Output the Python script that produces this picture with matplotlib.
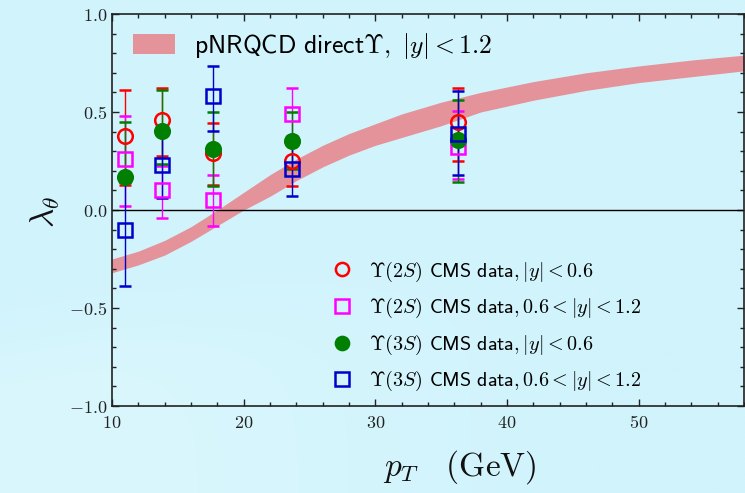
import numpy as np
import matplotlib
matplotlib.use("Agg")
import matplotlib.pyplot as plt
from matplotlib.lines import Line2D
from matplotlib.patches import Patch
from matplotlib.ticker import FuncFormatter, MultipleLocator

plt.rcParams['mathtext.fontset'] = 'cm'

# pNRQCD band
band_pt = [10, 12, 14, 16, 18, 20, 22, 24, 26, 28, 30, 32, 35, 38, 42, 46, 50, 54, 58]
band_hi = [-0.25, -0.21, -0.155, -0.085, 0.0, 0.09, 0.18, 0.26, 0.33, 0.39, 0.44, 0.49,
           0.55, 0.60, 0.655, 0.70, 0.735, 0.765, 0.79]
band_lo = [-0.32, -0.28, -0.23, -0.16, -0.08, 0.0, 0.07, 0.15, 0.22, 0.28, 0.33, 0.37,
           0.43, 0.50, 0.56, 0.61, 0.65, 0.68, 0.71]

pt = [11.0, 13.8, 17.7, 23.7, 36.3]

# Upsilon(2S), |y|<0.6
y2s_c = [0.38, 0.46, 0.29, 0.25, 0.45]
y2s_c_hi = [0.61, 0.62, 0.445, 0.38, 0.62]
y2s_c_lo = [0.13, 0.275, 0.13, 0.12, 0.25]
# Upsilon(2S), 0.6<|y|<1.2
y2s_f = [0.26, 0.10, 0.05, 0.49, 0.32]
y2s_f_hi = [0.48, 0.225, 0.18, 0.62, 0.505]
y2s_f_lo = [0.02, -0.04, -0.08, 0.36, 0.16]
# Upsilon(3S), |y|<0.6
y3s_c = [0.17, 0.405, 0.31, 0.35, 0.355]
y3s_c_hi = [0.45, 0.61, 0.50, 0.50, 0.56]
y3s_c_lo = [0.145, 0.235, 0.12, 0.21, 0.145]
# Upsilon(3S), 0.6<|y|<1.2
y3s_f = [-0.10, 0.23, 0.58, 0.21, 0.39]
y3s_f_hi = [0.145, 0.385, 0.735, 0.35, 0.605]
y3s_f_lo = [-0.39, 0.06, 0.405, 0.07, 0.18]

series = [
    (y2s_c, y2s_c_lo, y2s_c_hi, '#ff0000', 'o', 'none', r'$\Upsilon(2S)$ $\mathsf{CMS\ data},|y|<0.6$'),
    (y2s_f, y2s_f_lo, y2s_f_hi, '#ff00ff', 's', 'none', r'$\Upsilon(2S)$ $\mathsf{CMS\ data},0.6<|y|<1.2$'),
    (y3s_c, y3s_c_lo, y3s_c_hi, '#007f00', 'o', '#007f00', r'$\Upsilon(3S)$ $\mathsf{CMS\ data},|y|<0.6$'),
    (y3s_f, y3s_f_lo, y3s_f_hi, '#0000cc', 's', 'none', r'$\Upsilon(3S)$ $\mathsf{CMS\ data},0.6<|y|<1.2$'),
]

fig = plt.figure(figsize=(7.45, 4.93), dpi=100)
fig.patch.set_facecolor('#d0f3fc')

# soft background, slightly lighter towards the lower left
bg = fig.add_axes([0, 0, 1, 1], zorder=-10)
gx, gy = np.meshgrid(np.linspace(0, 1, 300), np.linspace(0, 1, 200))
curve = 0.30 + 0.25 * gx
w = 1 / (1 + np.exp((gy - curve) / 0.06)) * np.clip(1.2 - gx * 1.5, 0, 1)
base = np.array([208, 243, 252]) / 255
light = np.array([218, 247, 253]) / 255
img = base[None, None, :] * (1 - w[..., None]) + light[None, None, :] * w[..., None]
bg.imshow(img, extent=[0, 1, 0, 1], origin='lower', aspect='auto')
bg.axis('off')

ax = fig.add_axes([112/745, 1 - 406/493, (744 - 112)/745, (406 - 14)/493])
ax.patch.set_alpha(0)

band_col = '#e4939a'
ax.fill_between(band_pt, band_lo, band_hi, color=band_col, lw=0, zorder=1)
ax.axhline(0, color='black', lw=1.0, zorder=2)

handles = []
for yv, lo, hi, col, mk, fc, lab in series:
    yv = np.array(yv)
    err = [yv - np.array(lo), np.array(hi) - yv]
    ax.errorbar(pt, yv, yerr=err, fmt=mk, color=col, mfc=fc, mec=col, ms=10.5,
                mew=1.8, elinewidth=1.0, capsize=4.2, capthick=1.0, zorder=3)
    handles.append(Line2D([], [], ls='none', marker=mk, color=col, mfc=fc, mec=col,
                          ms=9.5, mew=1.8, label=lab))

ax.set_xlim(10, 58)
ax.set_ylim(-1, 1)
ax.xaxis.set_major_locator(MultipleLocator(10))
ax.xaxis.set_minor_locator(MultipleLocator(2))
ax.yaxis.set_major_locator(MultipleLocator(0.5))
ax.yaxis.set_minor_locator(MultipleLocator(0.1))
ax.xaxis.set_major_formatter(FuncFormatter(lambda v, p: f"${v:.0f}$"))
ax.yaxis.set_major_formatter(FuncFormatter(lambda v, p: f"${v:.1f}$"))
ax.tick_params(which='both', direction='in', top=True, right=True, colors='#222222',
               labelsize=13, width=1.0)
ax.tick_params(which='major', length=5)
ax.tick_params(which='minor', length=3)
ax.tick_params(axis='x', pad=6)
for s in ax.spines.values():
    s.set_color('#222222')
    s.set_linewidth(1.2)

leg1 = ax.legend(handles=[Patch(color=band_col, lw=0)],
                 labels=[r'$\mathsf{pNRQCD\ direct}\Upsilon,\ |y|<1.2$'],
                 loc='upper left', bbox_to_anchor=(-0.004, 1.015), frameon=False,
                 fontsize=18.5, handlelength=1.65, handleheight=0.8, handletextpad=0.75)
ax.add_artist(leg1)

ax.legend(handles=handles, loc='upper left', bbox_to_anchor=(0.319, 0.42), frameon=False,
          fontsize=14.5, handlelength=1.0, handletextpad=0.85, labelspacing=0.62)

fig.text(460/745, 1 - 467/493, r'$p_T\quad(\mathrm{GeV})$', fontsize=24,
         ha='center', va='center', color='#111111')
fig.text(45/745, 1 - 212/493, r'$\lambda_\theta$', fontsize=24, rotation=90,
         ha='center', va='center', color='#111111')

fig.savefig('out.png', dpi=100, facecolor=fig.get_facecolor())
